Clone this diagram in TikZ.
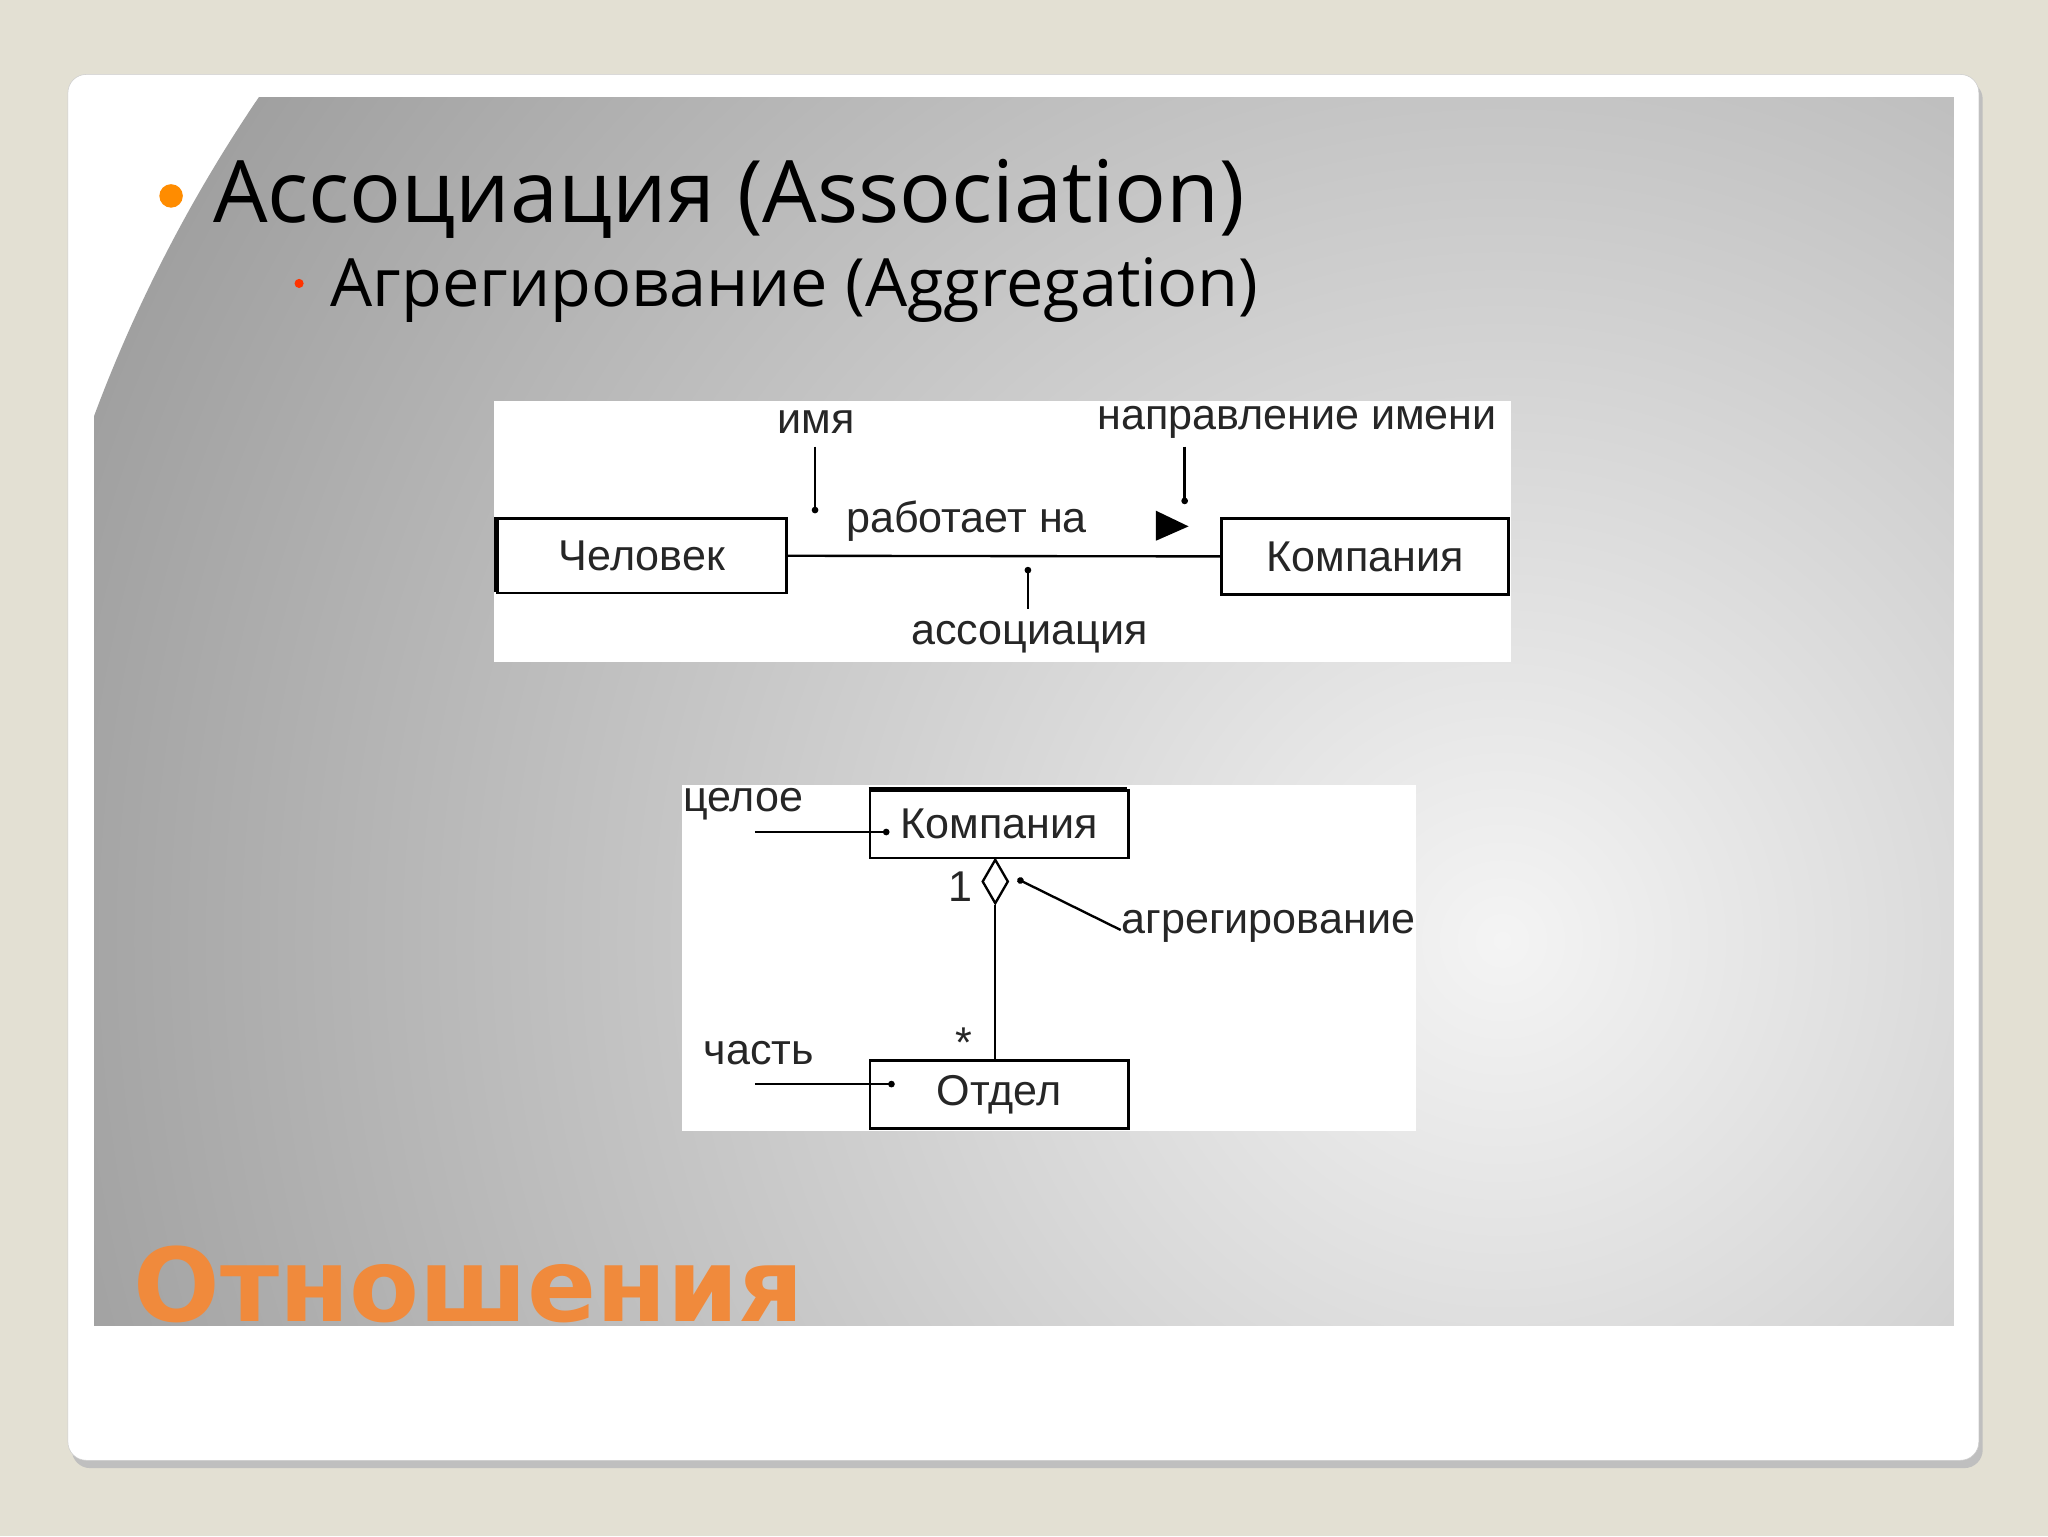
\documentclass[tikz,border=0pt]{standalone}
\usepackage{fontspec}
\usetikzlibrary{arrows.meta,shapes.geometric}
\setmainfont{Liberation Sans}
\newfontfamily\titlefont{Open Sans}
\newfontfamily\headfont{DejaVu Sans}
\begin{document}
\begin{tikzpicture}[x=1pt,y=-1pt,
  umlbox/.style={draw,line width=2pt,inner sep=0pt},
  lbl/.style={font=\fontsize{33}{33}\selectfont,text=black!85},
  ln/.style={line width=1.8pt},
  dotend/.style={-{Circle[length=5pt]}}]
\fill[fill={rgb,255:red,227;green,224;blue,211}] (0,0) rectangle (1568,1176);
\useasboundingbox (0,0) rectangle (1568,1176);
\fill[black!25,rounded corners=14pt] (55,62) rectangle (1518,1124);
\fill[white,draw=black!20,rounded corners=14pt] (52,57) rectangle (1515,1118);
\begin{scope}
\clip (72,75) rectangle (1496,1015);
\shade[inner color={rgb,255:red,244;green,244;blue,244},outer color={rgb,255:red,160;green,160;blue,160}] (1150,720) circle (1150pt);
\end{scope}
% titles
\fill[orange!90!yellow] (131,150) circle (9pt);
\node[anchor=base west,inner sep=0pt,font=\titlefont\fontsize{66}{66}\selectfont] (t1) at (163,170) {Ассоциация (Association)};
\fill[red!60!orange] (229,217) circle (3.5pt);
\node[anchor=base west,inner sep=0pt,font=\titlefont\fontsize{51}{51}\selectfont] (t2) at (253,235) {Агрегирование (Aggregation)};
\node[anchor=base west,inner sep=0pt,text={rgb,255:red,240;green,138;blue,60},font=\headfont\bfseries\fontsize{78}{78}\selectfont] (h) at (102,1012) {Отношения};
% diagram 1
\fill[white] (378,307) rectangle (1157,507);
\node[umlbox,minimum width=221pt,minimum height=57pt,lbl,anchor=north west] (p) at (380,396) {Человек};
\draw[line width=3pt] (380,396) -- (380,453);
\node[umlbox,minimum width=220pt,minimum height=58pt,lbl,anchor=north west] (c) at (934,396) {Компания};
\draw[ln] (p.east) -- (c.west);
\node[lbl] (imya) at (625,323) {имя};
\node[lbl] (rab) at (740,399) {работает на};
\node[lbl] (napr) at (993,323) {направление имени};
\node[lbl] (assoc) at (788,488) {ассоциация};
\coordinate (a1) at (624,342); \coordinate (a2) at (624,393);
\draw[ln,dotend] (a1) -- (a2);
\coordinate (b1) at (907,342); \coordinate (b2) at (907,386);
\draw[ln,dotend] (b1) -- (b2);
\coordinate (d1) at (787,466); \coordinate (d2) at (787,434);
\draw[ln,dotend] (d1) -- (d2);
\fill (885,391) -- (910,403) -- (885,414) -- cycle;
% diagram 2
\fill[white] (522,601) rectangle (1084,866);
\node[umlbox,minimum width=198pt,minimum height=52pt,lbl,anchor=north west] (k) at (665,604) {Компания};
\draw[line width=3.5pt] (665,604) -- (863,604);
\node[umlbox,minimum width=198pt,minimum height=52pt,lbl,anchor=north west] (o) at (665,811) {Отдел};
\node[draw,line width=1.8pt,fill=white,minimum width=20pt,minimum height=34pt,inner sep=0pt,shape=diamond,anchor=north] (dm) at (762,657) {};
\draw[ln] (dm.south) -- (o.north -| dm.south);
\node[lbl] (one) at (735,679) {1};
\node[lbl] (st) at (738,798) {*};
\node[lbl] (cel) at (569,616) {целое};
\node[lbl] (chast) at (581,806) {часть};
\node[lbl] (agr) at (971,709) {агрегирование};
\coordinate (c1) at (578,637); \coordinate (c2) at (681,637);
\draw[ln,dotend] (c1) -- (c2);
\coordinate (e1) at (578,830); \coordinate (e2) at (685,830);
\draw[ln,dotend] (e1) -- (e2);
\coordinate (g1) at (858,712); \coordinate (g2) at (779,673);
\draw[ln,dotend] (g1) -- (g2);
\end{tikzpicture}
\end{document}
